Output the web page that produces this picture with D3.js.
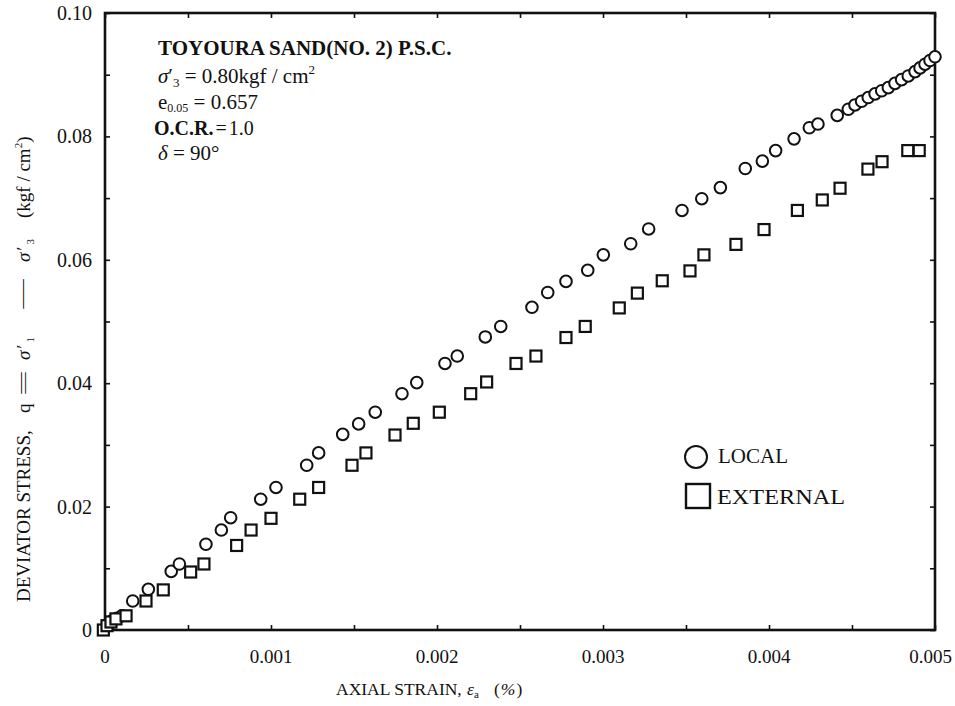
<!DOCTYPE html>
<html><head><meta charset="utf-8">
<script src="https://cdn.jsdelivr.net/npm/d3@7"></script>
<style>
body{margin:0;background:#fff;}
text{font-family:"Liberation Serif","Times New Roman",serif;fill:#111;}
</style></head>
<body><svg id="c" width="955" height="706"></svg>
<script>
// strain (%) and deviator stress (kgf/cm2)
const localStrain = [0.000024,0.000042,0.000072,0.000102,0.000167,0.000261,0.000399,0.000448,0.000608,0.000701,0.000757,0.000938,0.001030,0.001215,0.001287,0.001432,0.001528,0.001628,0.001789,0.001878,0.002048,0.002122,0.002291,0.002384,0.002572,0.002667,0.002777,0.002908,0.003002,0.003167,0.003275,0.003476,0.003595,0.003707,0.003857,0.003960,0.004040,0.004151,0.004243,0.004295,0.004411,0.004478,0.004518,0.004558,0.004598,0.004639,0.004679,0.004719,0.004759,0.004799,0.004839,0.004880,0.004910,0.004940,0.004970,0.005000];
const localStress = [0.0010,0.0015,0.0019,0.0023,0.0047,0.0066,0.0095,0.0107,0.0139,0.0162,0.0182,0.0212,0.0231,0.0267,0.0287,0.0317,0.0334,0.0353,0.0383,0.0401,0.0432,0.0444,0.0475,0.0492,0.0523,0.0547,0.0565,0.0583,0.0608,0.0626,0.0650,0.0680,0.0699,0.0717,0.0748,0.0760,0.0777,0.0796,0.0814,0.0820,0.0834,0.0844,0.0851,0.0857,0.0863,0.0869,0.0874,0.0879,0.0886,0.0892,0.0898,0.0905,0.0911,0.0917,0.0923,0.0929];
const extStrain = [-0.00001,0.000012,0.000036,0.000066,0.000127,0.000247,0.000351,0.000516,0.000596,0.000793,0.000880,0.001000,0.001173,0.001287,0.001488,0.001572,0.001747,0.001857,0.002014,0.002203,0.002299,0.002476,0.002596,0.002777,0.002893,0.003098,0.003207,0.003357,0.003524,0.003608,0.003801,0.003970,0.004171,0.004321,0.004428,0.004596,0.004681,0.004836,0.004905];
const extStress = [0.0000,0.0007,0.0013,0.0018,0.0023,0.0047,0.0065,0.0094,0.0107,0.0137,0.0162,0.0181,0.0212,0.0231,0.0267,0.0287,0.0316,0.0335,0.0353,0.0383,0.0402,0.0432,0.0444,0.0474,0.0492,0.0522,0.0546,0.0566,0.0582,0.0608,0.0625,0.0649,0.0680,0.0697,0.0716,0.0747,0.0759,0.0777,0.0777];
const xTickValues = [0,0.001,0.002,0.003,0.004,0.005];
const xTickLabels = ["0","0.001","0.002","0.003","0.004","0.005"];
const yTickValues = [0,0.02,0.04,0.06,0.08,0.10];
const yTickLabels = ["0","0.02","0.04","0.06","0.08","0.10"];
const xMinor = d3.range(0,0.00501,0.0005);
const yMinor = d3.range(0,0.1001,0.01);

const svg = d3.select("#c");
const W=955, L=105,R=935,T=13,B=630;
const x = d3.scaleLinear().domain([0,0.005]).range([L,R]);
const y = d3.scaleLinear().domain([0,0.10]).range([B,T]);

// ticks inward on all four sides
const g = svg.append("g");
g.append("g").attr("transform",`translate(0,${B})`).call(d3.axisBottom(x).tickValues(xMinor).tickSizeInner(-5).tickSizeOuter(0).tickFormat(""));
g.append("g").attr("transform",`translate(0,${T})`).call(d3.axisTop(x).tickValues(xMinor).tickSizeInner(-5).tickSizeOuter(0).tickFormat(""));
g.append("g").attr("transform",`translate(${L},0)`).call(d3.axisLeft(y).tickValues(yMinor).tickSizeInner(-5).tickSizeOuter(0).tickFormat(""));
g.append("g").attr("transform",`translate(${R},0)`).call(d3.axisRight(y).tickValues(yMinor).tickSizeInner(-5).tickSizeOuter(0).tickFormat(""));
g.selectAll(".domain").remove();
g.selectAll(".tick line").attr("stroke","#111").attr("stroke-width",1.6);

svg.append("rect").attr("x",L).attr("y",T).attr("width",R-L).attr("height",B-T)
  .attr("fill","none").attr("stroke","#111").attr("stroke-width",2.6);

// tick labels
svg.selectAll(".xl").data(xTickValues).enter().append("text")
  .attr("x",d=>x(d)).attr("y",B+33).attr("text-anchor","middle")
  .attr("font-size",19).text((d,i)=>xTickLabels[i])
  .each(function(){ // keep the last label inside the window
    const w=this.getComputedTextLength(), cx=+this.getAttribute("x");
    if(cx+w/2>W-3) this.setAttribute("x",W-3-w/2);
  });
svg.selectAll(".yl").data(yTickValues).enter().append("text")
  .attr("x",L-13).attr("y",d=>y(d)+7).attr("text-anchor","end")
  .attr("font-size",20).text((d,i)=>yTickLabels[i]);

// data
const local = localStrain.map((s,i)=>({s,q:localStress[i]}));
const ext = extStrain.map((s,i)=>({s,q:extStress[i]}));
svg.append("g").selectAll("circle").data(local).enter().append("circle")
  .attr("cx",d=>x(d.s)).attr("cy",d=>y(d.q)).attr("r",5.8)
  .attr("fill","#fff").attr("stroke","#111").attr("stroke-width",2);
svg.append("g").selectAll("rect").data(ext).enter().append("rect")
  .attr("x",d=>x(d.s)-5.5).attr("y",d=>y(d.q)-5.5).attr("width",11).attr("height",11)
  .attr("fill","#fff").attr("stroke","#111").attr("stroke-width",2.2);

// legend
svg.append("circle").attr("cx",696).attr("cy",457).attr("r",11).attr("fill","#fff").attr("stroke","#111").attr("stroke-width",2);
svg.append("text").attr("x",718).attr("y",463).attr("font-size",21).text("LOCAL");
svg.append("rect").attr("x",686).attr("y",484).attr("width",24).attr("height",24).attr("fill","#fff").attr("stroke","#111").attr("stroke-width",2.4);
svg.append("text").attr("x",717).attr("y",504).attr("font-size",21).attr("textLength",128).attr("lengthAdjust","spacingAndGlyphs").text("EXTERNAL");

// annotations
const ax=158;
svg.append("text").attr("x",ax).attr("y",55).attr("font-size",21).attr("font-weight","bold").text("TOYOURA SAND(NO. 2) P.S.C.");
const t2=svg.append("text").attr("x",ax).attr("y",83).attr("font-size",21);
t2.append("tspan").attr("font-style","italic").text("σ");
t2.append("tspan").text("′");
t2.append("tspan").attr("font-size",13).attr("dy",4).text("3");
t2.append("tspan").attr("dy",-4).text(" = 0.80kgf / cm");
t2.append("tspan").attr("font-size",13).attr("dy",-9).text("2");
const t3=svg.append("text").attr("x",ax).attr("y",109).attr("font-size",21);
t3.append("tspan").text("e");
t3.append("tspan").attr("font-size",12).attr("dy",3).text("0.05");
t3.append("tspan").attr("dy",-3).text(" = 0.657");
const t4=svg.append("text").attr("x",ax-4).attr("y",135).attr("font-size",20);
t4.append("tspan").attr("font-weight","bold").text("O.C.R.");
t4.append("tspan").attr("dx",2).text("=");
t4.append("tspan").attr("dx",2).text("1.0");
const t5=svg.append("text").attr("x",ax).attr("y",160).attr("font-size",21);
t5.append("tspan").attr("font-style","italic").text("δ");
t5.append("tspan").text(" = 90°");

// axis titles
const xt=svg.append("text").attr("y",695).attr("font-size",17.5);
xt.append("tspan").attr("x",336).text("AXIAL STRAIN,");
xt.append("tspan").attr("x",467).attr("font-style","italic").text("ε");
xt.append("tspan").attr("font-size",11).attr("dy",3).text("a");
xt.append("tspan").attr("x",494).attr("dy",-3).text("(");
xt.append("tspan").attr("font-style","italic").attr("dx",1).text("%");
xt.append("tspan").attr("dx",1).text(")");

// y title: rotated group, positions measured along the text from its start
const yg=svg.append("g").attr("transform","translate(30,602) rotate(-90)").attr("font-size",19);
yg.append("text").attr("x",0).text("DEVIATOR STRESS,");
yg.append("text").attr("x",189).text("q");
yg.append("text").attr("x",206).attr("textLength",26).attr("lengthAdjust","spacingAndGlyphs").text("=");
const s1=yg.append("text").attr("x",242);
s1.append("tspan").attr("font-style","italic").text("σ");
s1.append("tspan").attr("dx",2).text("′");
s1.append("tspan").attr("font-size",11).attr("dy",4).attr("dx",2).text("1");
yg.append("text").attr("x",290).attr("textLength",36).attr("lengthAdjust","spacingAndGlyphs").text("−");
const s3=yg.append("text").attr("x",340);
s3.append("tspan").attr("font-style","italic").text("σ");
s3.append("tspan").attr("dx",2).text("′");
s3.append("tspan").attr("font-size",11).attr("dy",4).attr("dx",2).text("3");
const u=yg.append("text").attr("x",384);
u.append("tspan").text("(kgf / cm");
u.append("tspan").attr("font-size",11).attr("dy",-8).text("2");
u.append("tspan").attr("dy",8).text(")");
</script></body></html>
